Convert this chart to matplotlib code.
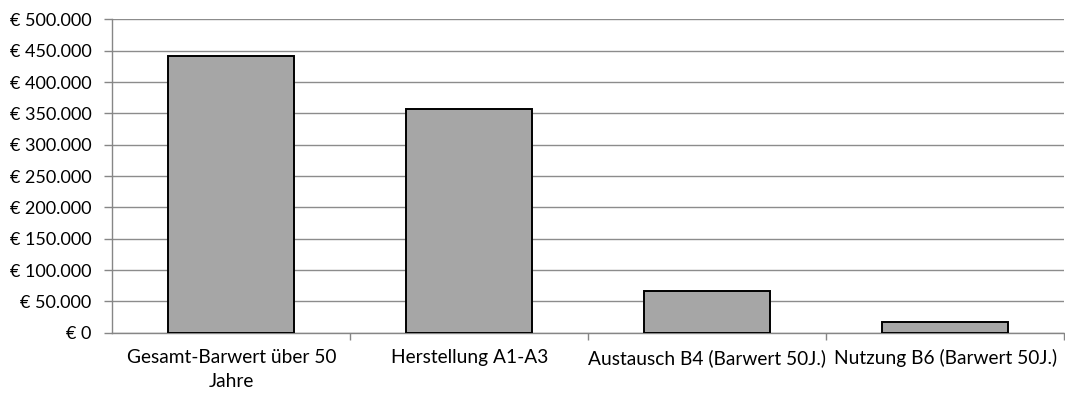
import matplotlib
matplotlib.use("Agg")
import matplotlib.pyplot as plt
from matplotlib.ticker import FuncFormatter, MultipleLocator, FixedLocator

plt.rcParams['font.family'] = ['Lato', 'DejaVu Sans']

categories = ["Gesamt-Barwert über 50\nJahre", "Herstellung A1-A3",
              "Austausch B4 (Barwert 50J.)", "Nutzung B6 (Barwert 50J.)"]
values = [441000, 357000, 67000, 16600]

fig = plt.figure(figsize=(10.65, 3.94), dpi=100)
ax = fig.add_axes([0.1056, 0.1556, 0.8935, 0.795])

x = range(len(categories))
ax.bar(x, values, width=0.53, color="#a6a6a6", edgecolor="black", linewidth=1.4, zorder=3)

ax.set_xlim(-0.5, len(categories) - 0.5)
ax.set_ylim(0, 500000)
ax.yaxis.set_major_locator(MultipleLocator(50000))
ax.yaxis.set_major_formatter(FuncFormatter(lambda v, p: "€ " + f"{int(v):,}".replace(",", ".")))
ax.grid(axis="y", color="#8c8c8c", linewidth=1.0, zorder=0)

ax.set_xticks(list(x))
ax.set_xticklabels(categories, fontsize=13.8, linespacing=1.45)
ax.tick_params(axis="x", length=0, pad=12)
ax.xaxis.set_minor_locator(FixedLocator([i + 0.5 for i in range(len(categories))]))
ax.tick_params(axis="x", which="minor", length=5, color="#868686", width=1)
ax.tick_params(axis="y", length=6, color="#868686", width=1, labelsize=13.0, pad=9)

for s in ["top", "right"]:
    ax.spines[s].set_visible(False)
for s in ["left", "bottom"]:
    ax.spines[s].set_color("#868686")
    ax.spines[s].set_linewidth(1.0)

fig.savefig("out.png", dpi=100)
